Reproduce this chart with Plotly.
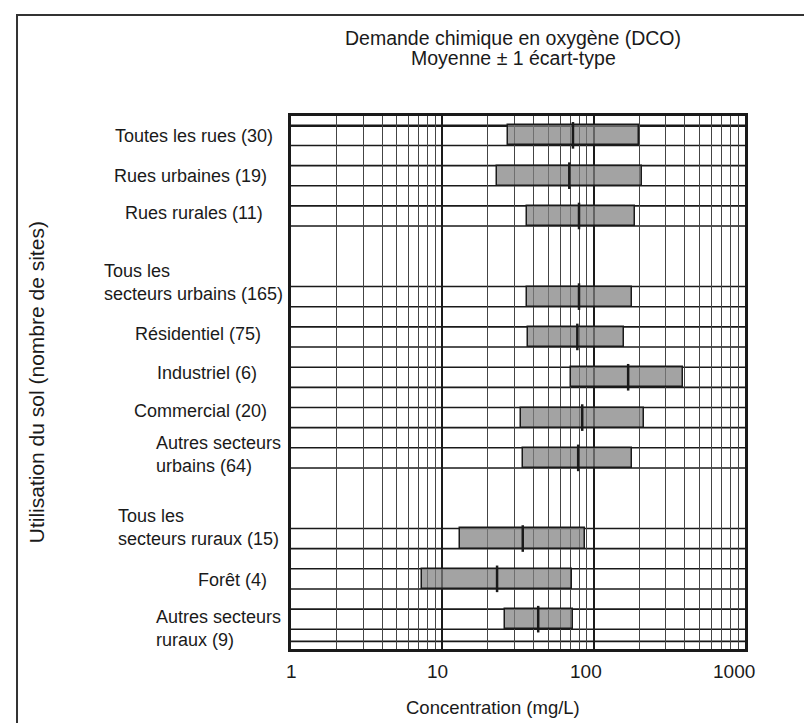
import math
import plotly.graph_objects as go

# sites par groupe d'utilisation du sol
rues = ["Toutes les rues (30)", "Rues urbaines (19)", "Rues rurales (11)"]
urbains = ["Tous les<br>secteurs urbains (165)", "Résidentiel (75)", "Industriel (6)",
           "Commercial (20)", "Autres secteurs<br>urbains (64)"]
ruraux = ["Tous les<br>secteurs ruraux (15)", "Forêt (4)", "Autres secteurs<br>ruraux (9)"]

# DCO (mg/L) : moyenne - 1 écart-type, moyenne, moyenne + 1 écart-type
bas = [27, 23, 36, 36, 37, 71, 33, 34, 13, 7.3, 26]
moyenne = [73, 69, 80, 80, 78, 169, 84, 79, 34, 23, 43]
haut = [198, 210, 188, 180, 159, 392, 215, 179, 88, 72, 73]

ticks_x = [1, 10, 100, 1000]

categories = rues + urbains + ruraux
# ordre des lignes avec un espace vide entre les groupes
ordre = rues + [" "] + urbains + ["  "] + ruraux

# petits decalages des etiquettes (px) pour suivre la mise en page originale
lab_dx = [-16, -22, -26, -6, -28, -32, -22, -8, -10, -22, -8]
lab_dy = [-1, 0, 3, 14, 3, 4, 7, 3, 11, -1, -9]
tick_dx = [0, -5, -8, -11]

police = "Liberation Sans, Arial, sans-serif"
noir = "#1a1a1a"

fig = go.Figure()

fig.add_trace(go.Bar(
    y=categories, x=[h - b for h, b in zip(haut, bas)], base=bas,
    orientation="h", width=0.5,
    marker=dict(color="rgba(128,128,128,0.72)", line=dict(color=noir, width=1.5)),
    showlegend=False, hoverinfo="skip"))

fig.add_trace(go.Scatter(
    y=categories, x=moyenne, mode="markers",
    marker=dict(symbol="line-ns", size=19, line=dict(width=2.5, color=noir)),
    showlegend=False))

# lignes horizontales aux bords des barres
formes = []
for c in categories:
    i = ordre.index(c)
    for yy in (i - 0.25, i + 0.25):
        formes.append(dict(type="line", xref="x domain", x0=0, x1=1, yref="y", y0=yy, y1=yy,
                           line=dict(color=noir, width=1.6), layer="below"))
for yy in (-0.23, len(ordre) - 0.45):
    formes.append(dict(type="line", xref="x domain", x0=0, x1=1, yref="y", y0=yy, y1=yy,
                       line=dict(color=noir, width=1.6), layer="below"))
# cadre de la page
formes.append(dict(type="rect", xref="paper", yref="paper", x0=-0.6035, x1=1.4, y0=-0.4, y1=1.1895,
                   line=dict(color="#333", width=2)))

annots = []
for c, dx, dy in zip(categories, lab_dx, lab_dy):
    annots.append(dict(text=c, xref="paper", x=0, xanchor="right", xshift=dx,
                       yref="y", y=c, yanchor="middle", yshift=dy, align="left",
                       showarrow=False, font=dict(size=18, color=noir, family=police)))
# etiquettes de l'axe x (legerement decalees comme dans la figure d'origine)
for t, dx in zip(ticks_x, tick_dx):
    annots.append(dict(text=str(t), xref="x", x=math.log10(t), xshift=dx,
                       yref="paper", y=-0.0413, yanchor="middle",
                       showarrow=False, font=dict(size=19, color=noir, family=police)))
annots.append(dict(text="Demande chimique en oxygène (DCO)", xref="paper", x=0.49, yref="paper", y=1.147,
                   yanchor="middle", showarrow=False, font=dict(size=19.5, color=noir, family=police)))
annots.append(dict(text="Moyenne ± 1 écart-type", xref="paper", x=0.49, yref="paper", y=1.108,
                   yanchor="middle", showarrow=False, font=dict(size=19.5, color=noir, family=police)))
annots.append(dict(text="Utilisation du sol (nombre de sites)", xref="paper", x=-0.56, xanchor="center",
                   yref="paper", y=0.5, yanchor="middle",
                   textangle=-90, showarrow=False, font=dict(size=21, color=noir, family=police)))
annots.append(dict(text="Concentration (mg/L)", xref="paper", x=0.445, xanchor="center",
                   yref="paper", y=-0.109, yanchor="middle",
                   showarrow=False, font=dict(size=18.5, color=noir, family=police)))

fig.update_xaxes(
    type="log", range=[0, 3],
    tickvals=ticks_x, showticklabels=False, ticks="",
    showgrid=True, gridcolor=noir, gridwidth=2,
    minor=dict(tickvals=[m * d for d in (1, 10, 100) for m in range(2, 10)],
               showgrid=True, gridcolor="#444", gridwidth=1.2, ticks=""),
    showline=True, mirror=True, linecolor=noir, linewidth=2.5, zeroline=False)

fig.update_yaxes(
    type="category", categoryorder="array", categoryarray=ordre,
    range=[len(ordre) - 0.26, -0.48],
    showticklabels=False, ticks="", showgrid=False, zeroline=False,
    showline=True, mirror=True, linecolor=noir, linewidth=2.5)

fig.update_layout(
    width=812, height=723,
    margin=dict(l=283, r=75, t=108, b=82, autoexpand=False),
    paper_bgcolor="white", plot_bgcolor="white",
    shapes=formes, annotations=annots, bargap=0,
    font=dict(family=police, color=noir))

fig.write_html("out.html")
